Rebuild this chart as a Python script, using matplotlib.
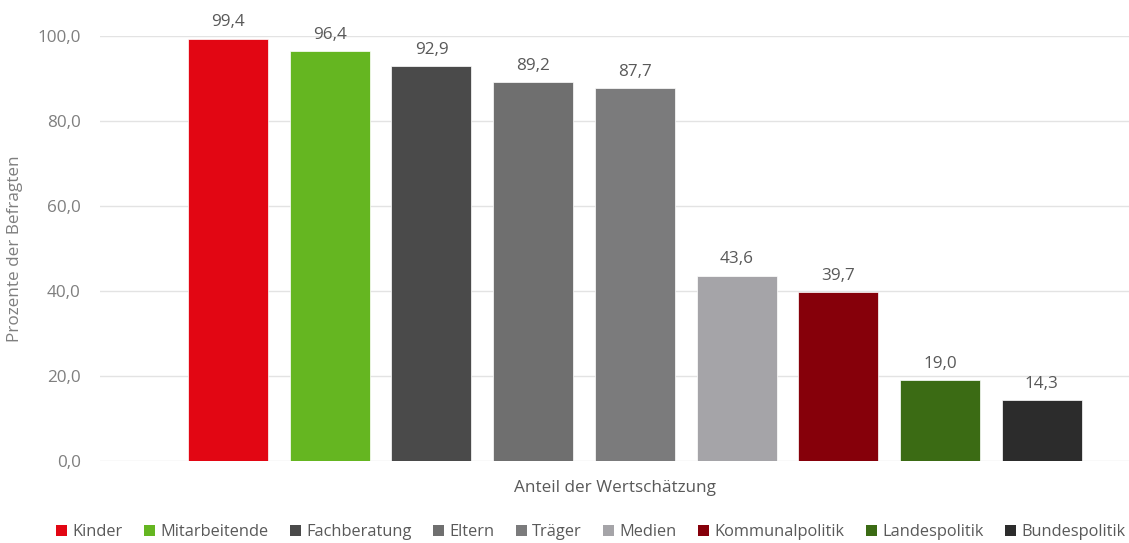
import matplotlib
matplotlib.use("Agg")
import matplotlib.pyplot as plt
from matplotlib.patches import Patch

categories = ["Kinder", "Mitarbeitende", "Fachberatung", "Eltern", "Träger",
              "Medien", "Kommunalpolitik", "Landespolitik", "Bundespolitik"]
values = [99.4, 96.4, 92.9, 89.2, 87.7, 43.6, 39.7, 19.0, 14.3]
colors = ["#E20613", "#65B621", "#4A4A4A", "#6F6F6F", "#7B7B7C",
          "#A5A4A8", "#86000A", "#3B6B14", "#2C2C2C"]
yticks = [0, 20, 40, 60, 80, 100]

plt.rcParams['font.family'] = ['Open Sans', 'DejaVu Sans']
txt = "#7F7F7F"
fs = 12.3

fig = plt.figure(figsize=(11.29, 5.43), dpi=100)
ax = fig.add_axes([100/1129, 82/543, 1 - 100/1129, 425/543])

x = list(range(len(values)))
ax.bar(x, values, width=0.787, color=colors, edgecolor="white", linewidth=0.5, zorder=3)
for xi, v in zip(x, values):
    ax.annotate(f"{v:.1f}".replace(".", ","), (xi, v), xytext=(0, 6),
                textcoords="offset points", ha="center", va="bottom",
                fontsize=fs, color="#595959")

ax.set_xlim(-1.26, 8.86)
ax.set_ylim(0, 100)
ax.set_yticks(yticks)
ax.set_yticklabels([f"{t:.1f}".replace(".", ",") for t in yticks], fontsize=fs, color=txt)
ax.set_xticks([])
ax.tick_params(axis="y", length=0, pad=14)
ax.grid(axis="y", color="#E3E3E3", linewidth=1, zorder=0)
for s in ax.spines.values():
    s.set_visible(False)
ax.set_ylabel("Prozente der Befragten", fontsize=fs, color=txt, labelpad=10)
ax.set_xlabel("Anteil der Wertschätzung", fontsize=fs, color="#595959", labelpad=14)

handles = [Patch(facecolor=c, label=l) for c, l in zip(colors, categories)]
fig.legend(handles=handles, loc="center", bbox_to_anchor=(0.523, 1 - 532/543), ncol=9,
           frameon=False, fontsize=11.8, handlelength=0.7, handleheight=0.7,
           handletextpad=0.3, columnspacing=1.3, labelcolor="#595959")

fig.savefig("out.png", dpi=100)
